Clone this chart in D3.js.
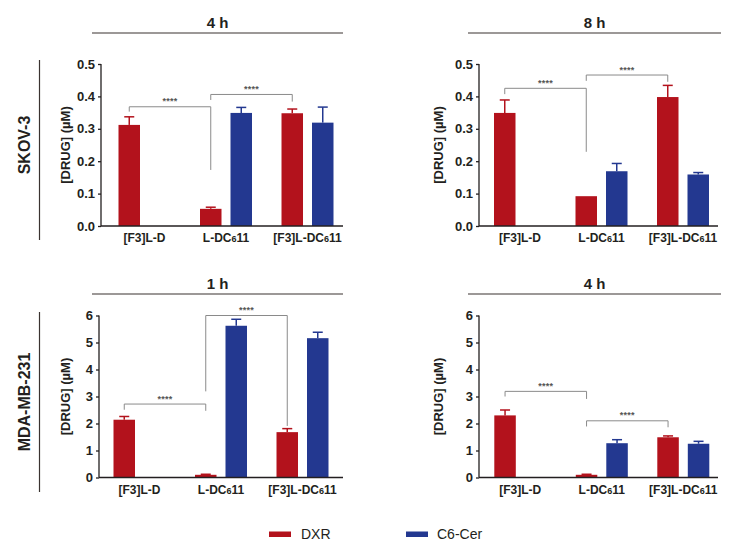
<!DOCTYPE html>
<html><head><meta charset="utf-8">
<script src="https://cdn.jsdelivr.net/npm/d3@7"></script>
<style>body{margin:0;background:#fff}svg{display:block;font-family:"Liberation Sans",Arial,sans-serif}</style>
</head><body><svg id="c" width="739" height="554"></svg>
<script>
const categories = ["[F3]L-D", "L-DC611", "[F3]L-DC611"];
const series = ["DXR", "C6-Cer"];
const colors = ["#b3121c", "#233890"];

const skov4hDXR = [0.312, 0.053, 0.348];
const skov4hDXRErr = [0.025, 0.005, 0.013];
const skov4hC6 = [null, 0.349, 0.319];
const skov4hC6Err = [null, 0.017, 0.048];

const skov8hDXR = [0.349, 0.092, 0.398];
const skov8hDXRErr = [0.040, 0.000, 0.036];
const skov8hC6 = [null, 0.169, 0.159];
const skov8hC6Err = [null, 0.024, 0.006];

const mda1hDXR = [2.14, 0.10, 1.68];
const mda1hDXRErr = [0.12, 0.02, 0.13];
const mda1hC6 = [null, 5.62, 5.16];
const mda1hC6Err = [null, 0.24, 0.22];

const mda4hDXR = [2.30, 0.10, 1.49];
const mda4hDXRErr = [0.20, 0.02, 0.05];
const mda4hC6 = [null, 1.27, 1.25];
const mda4hC6Err = [null, 0.13, 0.09];

const skovTicks = [0, 0.1, 0.2, 0.3, 0.4, 0.5];
const mdaTicks = [0, 1, 2, 3, 4, 5, 6];

// brackets: [fromGroup, toGroup, topValue, leftLegValue, rightLegValue]
const skov4hBrackets = [[0, 1, 0.368, 0.353, 0.173], [1, 2, 0.406, 0.389, 0.384]];
const skov8hBrackets = [[0, 1, 0.425, 0.407, 0.229], [1, 2, 0.466, 0.448, 0.445]];
const mda1hBrackets = [[0, 1, 2.72, 2.51, 2.47], [1, 2, 6.0, 3.19, 1.91]];
const mda4hBrackets = [[0, 1, 3.19, 3.0, 2.91], [1, 2, 2.10, 1.89, 1.86]];

const titles = ["4 h", "8 h", "1 h", "4 h"];
const rowLabels = ["SKOV-3", "MDA-MB-231"];

const svg = d3.select("#c");

const panels = [
  {title: titles[0], dxr: skov4hDXR, dxrE: skov4hDXRErr, c6: skov4hC6, c6E: skov4hC6Err, br: skov4hBrackets,
   dom: [0, 0.5], ticks: skovTicks, fmt: d3.format(".1f"), axisX: 101, barX: 118.5, axisEnd: 343, y0: 226, y1: 64,
   ylabX: 65, lineY: 33, lineX: [92, 343]},
  {title: titles[1], dxr: skov8hDXR, dxrE: skov8hDXRErr, c6: skov8hC6, c6E: skov8hC6Err, br: skov8hBrackets,
   dom: [0, 0.5], ticks: skovTicks, fmt: d3.format(".1f"), axisX: 479, barX: 494, axisEnd: 718, y0: 226, y1: 64,
   ylabX: 438, lineY: 33, lineX: [468, 721]},
  {title: titles[2], dxr: mda1hDXR, dxrE: mda1hDXRErr, c6: mda1hC6, c6E: mda1hC6Err, br: mda1hBrackets,
   dom: [0, 6], ticks: mdaTicks, fmt: d3.format("d"), axisX: 99, barX: 113.5, axisEnd: 343, y0: 477.5, y1: 315.5,
   ylabX: 65, lineY: 294, lineX: [92, 343]},
  {title: titles[3], dxr: mda4hDXR, dxrE: mda4hDXRErr, c6: mda4hC6, c6E: mda4hC6Err, br: mda4hBrackets,
   dom: [0, 6], ticks: mdaTicks, fmt: d3.format("d"), axisX: 479, barX: 494.3, axisEnd: 718, y0: 477.5, y1: 315.5,
   ylabX: 438, lineY: 294, lineX: [468, 721]}
];

panels.forEach(p => {
  const g = svg.append("g");
  const y = d3.scaleLinear().domain(p.dom).range([p.y0, p.y1]);
  const x = d3.scaleBand().domain(categories).range([p.barX, p.barX + 215]).paddingInner(0.362).paddingOuter(0);
  const xs = d3.scaleBand().domain(series).range([0, x.bandwidth()]).paddingInner(0.295).paddingOuter(0);

  // title and line
  g.append("text").attr("x", (p.lineX[0] + p.lineX[1]) / 2).attr("y", p.lineY - 5)
    .attr("text-anchor", "middle").attr("font-size", 15).attr("font-weight", "bold").attr("fill", "#231f20").text(p.title);
  g.append("line").attr("x1", p.lineX[0]).attr("x2", p.lineX[1]).attr("y1", p.lineY).attr("y2", p.lineY)
    .attr("stroke", "#3a3330").attr("stroke-width", 1.2);

  // bars
  const rows = [];
  categories.forEach((c, i) => {
    rows.push({cat: c, s: 0, v: p.dxr[i], e: p.dxrE[i]});
    rows.push({cat: c, s: 1, v: p.c6[i], e: p.c6E[i]});
  });
  const valid = rows.filter(d => d.v != null);
  g.selectAll("rect.bar").data(valid).join("rect").attr("class", "bar")
    .attr("x", d => x(d.cat) + xs(series[d.s]))
    .attr("width", xs.bandwidth())
    .attr("y", d => y(d.v))
    .attr("height", d => y(0) - y(d.v))
    .attr("fill", d => colors[d.s]);
  // error bars (upper only)
  const eb = valid.filter(d => d.e > 0);
  const cx = d => x(d.cat) + xs(series[d.s]) + xs.bandwidth() / 2;
  g.selectAll("line.ev").data(eb).join("line").attr("class", "ev")
    .attr("x1", cx).attr("x2", cx).attr("y1", d => y(d.v)).attr("y2", d => y(d.v + d.e))
    .attr("stroke", d => colors[d.s]).attr("stroke-width", 1.5);
  g.selectAll("line.ec").data(eb).join("line").attr("class", "ec")
    .attr("x1", d => cx(d) - 5).attr("x2", d => cx(d) + 5).attr("y1", d => y(d.v + d.e)).attr("y2", d => y(d.v + d.e))
    .attr("stroke", d => colors[d.s]).attr("stroke-width", 1.5);

  // brackets
  const redC = i => x(categories[i]) + xs(series[0]) + xs.bandwidth() / 2;
  p.br.forEach(b => {
    const xa = redC(b[0]), xb = redC(b[1]);
    g.append("path")
      .attr("d", `M${xa},${y(b[3])}V${y(b[2])}H${xb}V${y(b[4])}`)
      .attr("fill", "none").attr("stroke", "#8a8a8a").attr("stroke-width", 1);
    g.append("text").attr("x", (xa + xb) / 2).attr("y", y(b[2]) - 2.5)
      .attr("text-anchor", "middle").attr("font-size", 9).attr("font-weight", "bold").attr("fill", "#555")
      .attr("letter-spacing", "0.3").text("****");
  });

  // y axis
  const ya = g.append("g").attr("transform", `translate(${p.axisX},0)`)
    .call(d3.axisLeft(y).tickValues(p.ticks).tickFormat(p.fmt).tickSize(3).tickPadding(3).tickSizeOuter(0));
  ya.select(".domain").attr("stroke", "#231f20").attr("stroke-width", 1.3).attr("d", `M0,${p.y0}V${p.y1}`);
  ya.selectAll(".tick line").attr("stroke", "#231f20").attr("stroke-width", 1.3);
  ya.selectAll(".tick text").attr("font-size", 13).attr("font-weight", "bold").attr("fill", "#231f20")
    .attr("font-family", "Liberation Sans, Arial, sans-serif");

  // x axis line
  g.append("line").attr("x1", p.axisX).attr("x2", p.axisEnd).attr("y1", p.y0).attr("y2", p.y0)
    .attr("stroke", "#231f20").attr("stroke-width", 1.3);
  // x labels with small 6
  categories.forEach(c => {
    const t = g.append("text").attr("x", x(c) + x.bandwidth() / 2).attr("y", p.y0 + 16)
      .attr("text-anchor", "middle").attr("font-size", 12).attr("font-weight", "bold").attr("fill", "#231f20");
    const idx = c.indexOf("6");
    if (idx >= 0) {
      t.append("tspan").text(c.slice(0, idx));
      t.append("tspan").attr("font-size", 9).text("6");
      t.append("tspan").text(c.slice(idx + 1));
    } else t.text(c);
  });

  // y label
  const ym = (p.y0 + p.y1) / 2;
  g.append("text").attr("transform", `translate(${p.ylabX + 4.5},${ym}) rotate(-90)`)
    .attr("text-anchor", "middle").attr("font-size", 13).attr("font-weight", "bold").attr("fill", "#231f20")
    .text("[DRUG] (µM)");
});

// row labels
[[rowLabels[0], 145, 60, 240], [rowLabels[1], 402, 312, 492]].forEach(r => {
  svg.append("text").attr("transform", `translate(29.5,${r[1]}) rotate(-90)`).attr("text-anchor", "middle")
    .attr("font-size", 16).attr("font-weight", "bold").attr("fill", "#231f20").text(r[0]);
  svg.append("line").attr("x1", 39.5).attr("x2", 39.5).attr("y1", r[2]).attr("y2", r[3])
    .attr("stroke", "#3a3330").attr("stroke-width", 1.2);
});

// legend
const lg = svg.append("g");
[[269, 301, 0], [406, 437, 1]].forEach(l => {
  lg.append("rect").attr("x", l[0]).attr("y", 531.5).attr("width", 22).attr("height", 5.5).attr("fill", colors[l[2]]);
  lg.append("text").attr("x", l[1]).attr("y", 538.5).attr("font-size", 14).attr("fill", "#231f20").text(series[l[2]]);
});
</script></body></html>
